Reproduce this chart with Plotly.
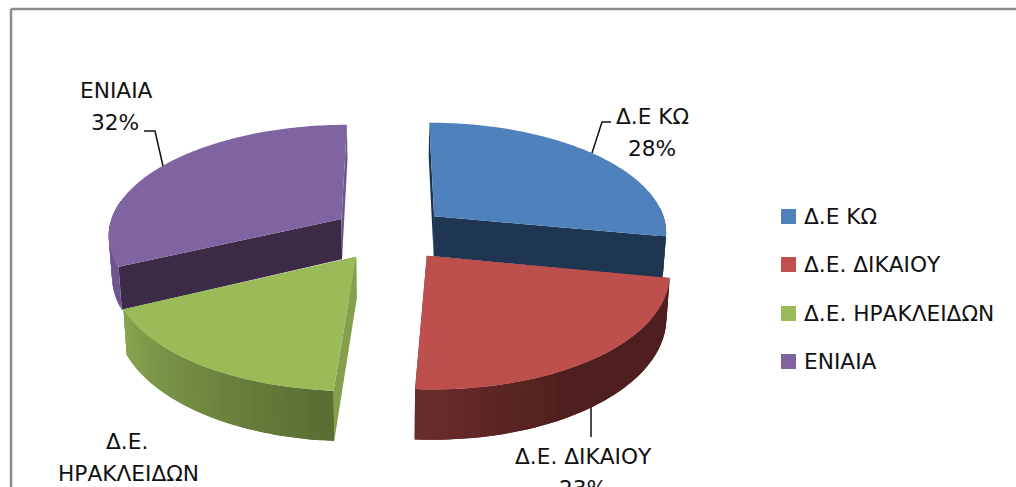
import math
import plotly.graph_objects as go

# ---- data ----
categories = ["Δ.Ε ΚΩ", "Δ.Ε. ΔΙΚΑΙΟΥ", "Δ.Ε. ΗΡΑΚΛΕΙΔΩΝ", "ΕΝΙΑΙΑ"]
values = [28, 23, 17, 32]

# ---- styles ----
top_colors = ["#4f81bd", "#bd4f4c", "#9bbb59", "#8064a2"]
legend_colors = ["#4f81bd", "#c0504d", "#9bbb59", "#8064a2"]
# outer wall colour at slice start angle / at slice end angle, and where the blend begins
wall_colors = [("#1f3652", "#1f3652", 0.0), ("#4e1f1e", "#6e2e2d", 0.55),
               ("#5a6e33", "#8aa750", 0.0), ("#6f5590", "#6f5590", 0.0)]
start_face = ["#1f3652", "#4e1f1e", "#84a04c", "#3b2b47"]
end_face = ["#1f3652", "#6e2e2d", "#84a04c", "#6f5590"]

FONT = "DejaVu Sans"
FS = 21.7
CX, CY = 390.0, 233.5
A, B, P = 234.0, 110.0, 0.13
H = 41.0
EXPL = 0.25
LEGEND_X = 788.5
LEGEND_TEXT_X = 802
LEGEND_Y = [216.5, 264.5, 313.5, 361.5]


def proj(u, v, low=False):
    s = 1.0 / (1.0 + P * v)
    x = CX + A * u * s
    y = CY - B * v * s
    if low:
        x = CX + (x - CX) * 0.988
        y += H * s ** 1.2
    return x, y


def poly(pts, color):
    xs = [p[0] for p in pts] + [pts[0][0]]
    ys = [p[1] for p in pts] + [pts[0][1]]
    return go.Scatter(x=xs, y=ys, mode="none", fill="toself", fillcolor=color,
                      hoverinfo="skip", showlegend=False)


def mix(c1, c2, t):
    a = [int(c1[i:i + 2], 16) for i in (1, 3, 5)]
    b = [int(c2[i:i + 2], 16) for i in (1, 3, 5)]
    return "#%02x%02x%02x" % tuple(round(a[i] + (b[i] - a[i]) * t) for i in range(3))


def slice_traces(i, start, end):
    mid = math.radians((start + end) / 2)
    u0, v0 = EXPL * math.sin(mid), EXPL * math.cos(mid)

    def rim(deg, low=False):
        r = math.radians(deg)
        return proj(u0 + math.sin(r), v0 + math.cos(r), low)

    traces = []
    # radial side faces
    traces.append(poly([proj(u0, v0), rim(start), rim(start, True), proj(u0, v0, True)], start_face[i]))
    traces.append(poly([proj(u0, v0), rim(end), rim(end, True), proj(u0, v0, True)], end_face[i]))
    # outer wall with a stepped gradient, painted back to front so neighbours overlap
    a0, a1 = max(start, 85.0), min(end, 280.0)
    n = 24
    c0, c1, blend = wall_colors[i]
    if a1 > a0:
        for k in reversed(range(n)):
            d0 = a0 + (a1 - a0) * k / n
            d1 = min(a1, d0 + (a1 - a0) * 2 / n)
            t = max(0.0, ((k + 0.5) / n - blend) / (1.0 - blend))
            pts = []
            for j in range(5):
                pts.append(rim(d0 + (d1 - d0) * j / 4))
            for j in range(4, -1, -1):
                pts.append(rim(d0 + (d1 - d0) * j / 4, True))
            traces.append(poly(pts, mix(c0, c1, t)))
    # top surface
    steps = max(int(end - start), 2)
    arc = [rim(start + (end - start) * k / steps) for k in range(steps + 1)]
    traces.append(poly([proj(u0, v0)] + arc, top_colors[i]))
    return traces


total = sum(values)
bounds = [0.0]
for v in values:
    bounds.append(bounds[-1] + 360.0 * v / total)

fig = go.Figure()


def leader(xs, ys):
    fig.add_trace(go.Scatter(x=xs, y=ys, mode="lines", line=dict(color="#111111", width=1.5),
                             hoverinfo="skip", showlegend=False))


leader([591, 591], [400, 437])

for i in (3, 0, 2, 1):
    for tr in slice_traces(i, bounds[i], bounds[i + 1]):
        fig.add_trace(tr)

leader([592, 602, 611], [153, 122, 122])
leader([163, 155, 144], [166, 131, 131])

ann = []
text_font = dict(family=FONT, size=FS, color="#111111")

# legend: square swatch with its label to the right
for name, col, ly in zip(categories, legend_colors, LEGEND_Y):
    fig.add_trace(go.Scatter(x=[LEGEND_X], y=[ly], mode="markers", name=name,
                             marker=dict(symbol="square", size=15, color=col),
                             hoverinfo="name", showlegend=False))
    ann.append(dict(x=LEGEND_TEXT_X, y=ly, text=name, showarrow=False, xanchor="left",
                    yanchor="middle", font=text_font))

labels = [
    (categories[0], 652, 116, 0),
    (f"{values[0]}%", 652, 148, 0),
    (categories[1], 583, 456, 0),
    (f"{values[1]}%", 583, 487, 1),
    ("Δ.Ε.", 127, 441, 0),
    ("ΗΡΑΚΛΕΙΔΩΝ", 128, 473, 0),
    (categories[3], 116, 90, 0),
    (f"{values[3]}%", 115, 122, 0),
]
for txt, lx, ly, shift in labels:
    ann.append(dict(x=lx, y=ly, text=txt, showarrow=False, xanchor="center", yanchor="middle",
                    yshift=-shift, font=text_font))

fig.update_layout(
    width=1016, height=487, margin=dict(l=0, r=0, t=0, b=0),
    paper_bgcolor="white", plot_bgcolor="white",
    showlegend=False,
    xaxis=dict(range=[0, 1016], visible=False, fixedrange=True),
    yaxis=dict(range=[487, 0], visible=False, fixedrange=True),
    annotations=ann,
    shapes=[
        dict(type="line", x0=11, x1=1016, y0=9, y1=9, line=dict(color="#8c8c8c", width=2.5)),
        dict(type="line", x0=11, x1=11, y0=9, y1=487, line=dict(color="#8c8c8c", width=2.5)),
    ],
)
fig.write_html("out.html", config={"displayModeBar": False},
               post_script="document.body.style.margin='0';document.body.style.overflow='hidden';")
